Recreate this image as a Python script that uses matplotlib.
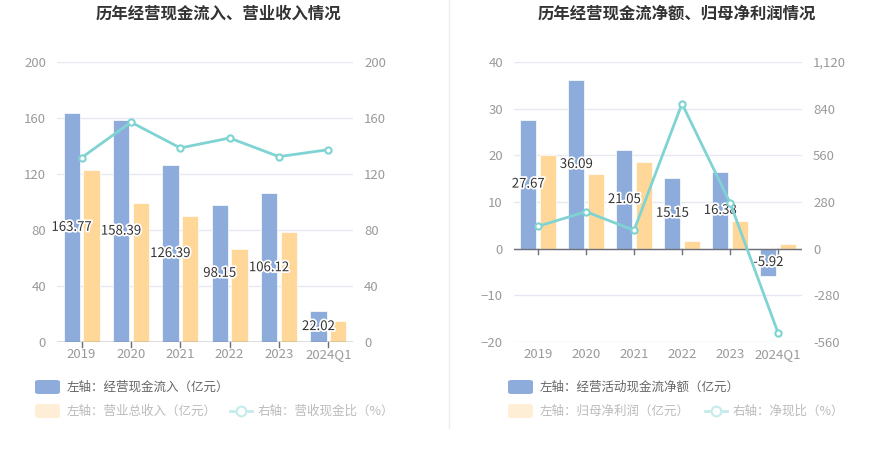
import matplotlib
matplotlib.use('Agg')
import matplotlib.pyplot as plt
import matplotlib.patheffects as pe
from matplotlib.patches import FancyBboxPatch
from matplotlib.lines import Line2D
import numpy as np

plt.rcParams['font.family'] = ['Noto Sans CJK SC', 'DejaVu Sans']

years = ['2019', '2020', '2021', '2022', '2023', '2024Q1']

# left chart
cash_in = [163.77, 158.39, 126.39, 98.15, 106.12, 22.02]
revenue = [123.0, 99.5, 90.0, 66.2, 78.8, 15.0]
cash_ratio = [131.7, 157.0, 138.6, 145.7, 132.4, 137.4]

# right chart
net_cash = [27.67, 36.09, 21.05, 15.15, 16.38, -5.92]
net_profit = [20.1, 16.1, 18.5, 1.6, 5.9, 1.1]
net_ratio = [134, 222, 110, 870, 276, -504]

BLUE = '#8eacdb'
YELLOW = '#ffd899'
TEAL = '#7fd3d3'
GRID = '#e6e9f2'
TICK = '#9a9a9a'

W, H = 893, 458
fig = plt.figure(figsize=(W / 100, H / 100), dpi=100)


def px_axes(x0, x1, y0, y1):
    return fig.add_axes([x0 / W, 1 - y1 / H, (x1 - x0) / W, (y1 - y0) / H])


def draw(ax, bars1, bars2, line, ylim, yticks, rlim, rticks, rfmt):
    x = np.arange(len(years))
    bw = 0.335
    ax.bar(x - 0.2, bars1, bw, color=BLUE, edgecolor='white', linewidth=0.5, zorder=2)
    ax.bar(x + 0.2, bars2, bw, color=YELLOW, edgecolor='white', linewidth=0.5, zorder=2)
    for xi, v in zip(x, bars1):
        ax.text(xi - 0.2, v / 2, f'{v:.2f}', ha='center', va='center', fontsize=9.5,
                color='#333333', zorder=5,
                path_effects=[pe.withStroke(linewidth=2.5, foreground='white')])
    ax.set_xlim(-0.5, len(years) - 0.5)
    ax.set_ylim(*ylim)
    ax.set_yticks(yticks)
    ax.grid(axis='y', color=GRID, linewidth=1, zorder=0)
    ax.set_axisbelow(True)
    for s in ax.spines.values():
        s.set_visible(False)
    ax.axhline(0, color='#6e7079', linewidth=1, zorder=3)
    ax.set_xticks(x)
    ax.set_xticklabels(years)
    ax.tick_params(axis='x', length=0, colors=TICK, labelsize=9.5, pad=4)
    ax.tick_params(axis='y', length=0, colors=TICK, labelsize=9.5, pad=8)
    # tick marks on the zero line
    for xi in x:
        ax.plot([xi, xi], [0, -(ylim[1] - ylim[0]) * 0.018], color='#6e7079',
                linewidth=1, clip_on=False, zorder=3)

    ax2 = ax.twinx()
    ax2.plot(x, line, color=TEAL, linewidth=2, marker='o', markersize=4.5,
             markerfacecolor='white', markeredgecolor=TEAL, markeredgewidth=1.5, zorder=4)
    ax2.set_ylim(*rlim)
    ax2.set_yticks(rticks)
    ax2.set_yticklabels([rfmt(t) for t in rticks])
    ax2.tick_params(axis='y', length=0, colors=TICK, labelsize=9.5, pad=8)
    for s in ax2.spines.values():
        s.set_visible(False)
    return ax2


ax1 = px_axes(57, 353, 62, 342)
draw(ax1, cash_in, revenue, cash_ratio, (0, 200), range(0, 201, 40),
     (0, 200), list(range(0, 201, 40)), lambda t: f'{t}')

ax3 = px_axes(514, 802, 62, 342)
draw(ax3, net_cash, net_profit, net_ratio, (-20, 40), range(-20, 41, 10),
     (-560, 1120), list(range(-560, 1121, 280)), lambda t: f'{t:,}')

fig.text(218 / W, 1 - 14 / H, '历年经营现金流入、营业收入情况', ha='center', va='center',
         fontsize=11.8, fontweight='bold', color='#333333')
fig.text(677 / W, 1 - 14 / H, '历年经营现金流净额、归母净利润情况', ha='center', va='center',
         fontsize=11.8, fontweight='bold', color='#333333')

# divider
fig.add_artist(Line2D([449 / W, 449 / W], [1 - 0 / H, 1 - 428 / H], color='#eeeeee', linewidth=1))


def legend_patch(x, y, color, label, tcolor):
    fig.add_artist(FancyBboxPatch((x / W, 1 - (y + 14) / H), 25 / W, 14 / H,
                                  boxstyle='round,pad=0,rounding_size=0.004',
                                  facecolor=color, edgecolor='none', transform=fig.transFigure))
    fig.text((x + 32) / W, 1 - (y + 7) / H, label, ha='left', va='center',
             fontsize=9, color=tcolor)


def legend_line(x, y, label, tcolor):
    yy = 1 - (y + 7) / H
    fig.add_artist(Line2D([x / W, (x + 22) / W], [yy, yy], color='#c4ecec', linewidth=2))
    fig.add_artist(Line2D([(x + 11) / W], [yy], marker='o', markersize=7,
                          markerfacecolor='white', markeredgecolor='#c4ecec',
                          markeredgewidth=1.5, color='#c4ecec'))
    fig.text((x + 28) / W, yy, label, ha='left', va='center', fontsize=9, color=tcolor)


legend_patch(35, 380, BLUE, '左轴：经营现金流入（亿元）', '#666666')
legend_patch(35, 404, '#ffeed6', '左轴：营业总收入（亿元）', '#bbbbbb')
legend_line(230, 404, '右轴：营收现金比（%）', '#bbbbbb')

legend_patch(508, 380, BLUE, '左轴：经营活动现金流净额（亿元）', '#666666')
legend_patch(508, 404, '#ffeed6', '左轴：归母净利润（亿元）', '#bbbbbb')
legend_line(705, 404, '右轴：净现比（%）', '#bbbbbb')

fig.savefig('out.png', dpi=100)
